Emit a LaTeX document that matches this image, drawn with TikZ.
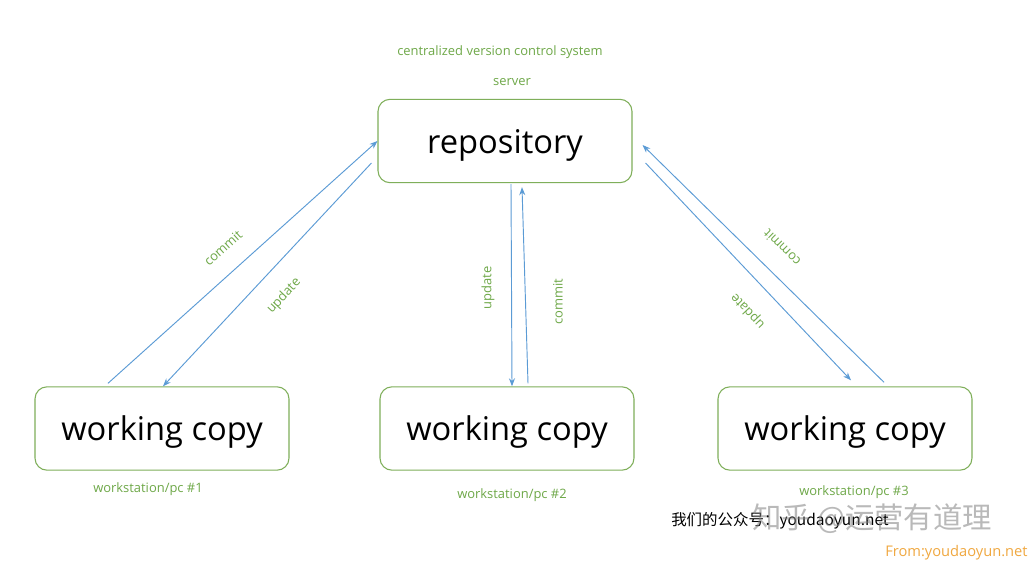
\documentclass[tikz,border=0pt]{standalone}
\usepackage{fontspec}
\setmainfont{Open Sans}
\newfontfamily\cjk{Noto Sans CJK SC}
\usetikzlibrary{arrows.meta,calc}
\definecolor{boxgreen}{HTML}{7FAF5A}
\definecolor{txtgreen}{HTML}{6EA848}
\definecolor{arrblue}{HTML}{5B9BD5}
\definecolor{wmorange}{HTML}{F0A840}
\newcommand{\boxtxt}[1]{\raisebox{-9pt}[0pt][0pt]{#1}}
\begin{document}
\begin{tikzpicture}[x=0.75pt,y=-0.75pt,
  box/.style={draw=boxgreen,line width=0.8pt,rounded corners=9pt,minimum width=190.5pt,minimum height=62.5pt,inner sep=0pt,font=\fontsize{24.5}{29}\selectfont},
  lbl/.style={text=txtgreen,font=\fontsize{9.7}{11}\selectfont,inner sep=0pt},
  conn/.style={draw=arrblue,line width=0.7pt,-{Stealth[length=6pt,width=4.5pt]}}]
\useasboundingbox (0,0) rectangle (1032,564);
\fill[white] (0,0) rectangle (1032,564);
\node[box] (repo) at (505,141) {\boxtxt{repository}};
\node[box] (wc1) at (162,428.5) {\boxtxt{working copy}};
\node[box] (wc2) at (507,428.5) {\boxtxt{working copy}};
\node[box] (wc3) at (845,428.5) {\boxtxt{working copy}};
\node[lbl] (cvcs) at (500,52) {centralized version control system};
\node[lbl] (srv) at (512,82) {server};
\node[lbl] (ws1) at (148,489) {workstation/pc \#1};
\node[lbl] (ws2) at (512,495) {workstation/pc \#2};
\node[lbl] (ws3) at (854,492) {workstation/pc \#3};
\draw[conn] ($(wc1.north)+(-54,-3)$) -- (repo.west);
\draw[conn] ($(repo.west)+(-6,22)$) -- ($(wc1.north)+(1,0)$);
\draw[conn] ($(repo.south)+(6,1)$) -- ($(wc2.north)+(5,0)$);
\draw[conn] ($(wc2.north)+(21,-3)$) -- ($(repo.south)+(17,4)$);
\draw[conn] ($(wc3.north)+(39,-4)$) -- ($(repo.east)+(10,4)$);
\draw[conn] ($(repo.east)+(13,22)$) -- ($(wc3.north)+(6,-6)$);
\node[lbl,rotate=42] (c1) at (223,248) {commit};
\node[lbl,rotate=47] (u1) at (284,296) {update};
\node[lbl,rotate=90] (u2) at (488,288) {update};
\node[lbl,rotate=90] (c2) at (558,302) {commit};
\node[lbl,rotate=135.5] (c3) at (782,248) {commit};
\node[lbl,rotate=133.4] (u3) at (748,311) {update};
\node[anchor=west,inner sep=0pt,font=\cjk\fontsize{11.6}{14}\selectfont] (wm1) at (671,521) {我们的公众号：youdaoyun.net};
\node[anchor=west,inner sep=0pt,text=gray,opacity=0.55,font=\cjk\fontsize{22}{26}\selectfont] (wm2) at (752,519) {知乎 @运营有道理};
\node[anchor=west,inner sep=0pt,text=wmorange,font=\fontsize{11}{14}\selectfont] (wm3) at (885,553) {From:youdaoyun.net};
\end{tikzpicture}
\end{document}
